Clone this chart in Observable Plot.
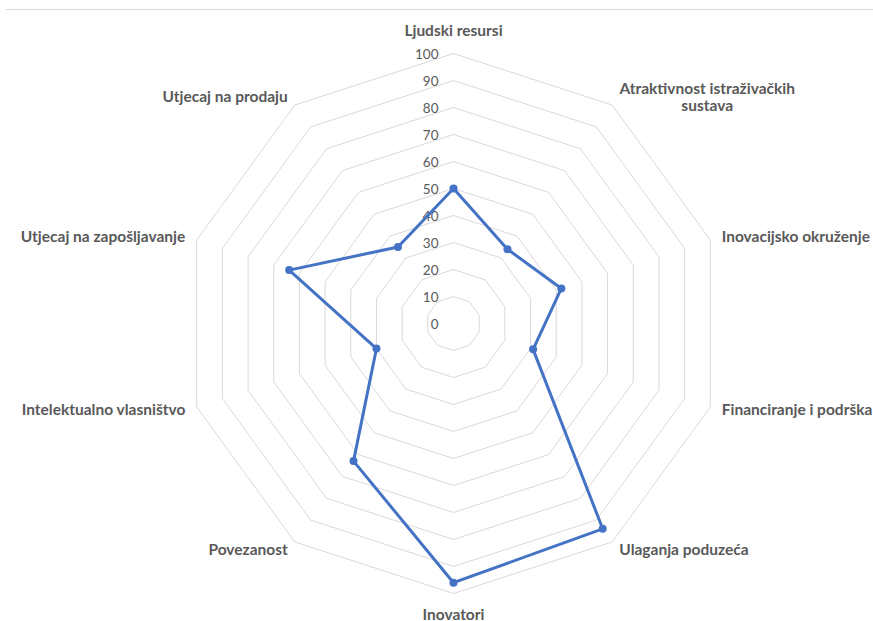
<!DOCTYPE html>
<html>
<head>
<meta charset="utf-8">
<script src="https://cdn.jsdelivr.net/npm/d3@7"></script>
<script src="https://cdn.jsdelivr.net/npm/@observablehq/plot@0.6"></script>
<style>
  body { margin: 0; background: #fff; }
  #wrap { position: relative; width: 873px; height: 621px; }
  #topline { position: absolute; left: 6px; right: 0; top: 9px; height: 0; border-top: 1px solid #d9d9d9; }
</style>
</head>
<body>
<div id="wrap"><div id="topline"></div><div id="chart"></div></div>
<script>
const categories = [
  "Ljudski resursi",
  "Atraktivnost istraživačkih\nsustava",
  "Inovacijsko okruženje",
  "Financiranje i podrška",
  "Ulaganja poduzeća",
  "Inovatori",
  "Povezanost",
  "Intelektualno vlasništvo",
  "Utjecaj na zapošljavanje",
  "Utjecaj na prodaju"
];
const values = [50, 34, 42, 31, 94, 96, 63, 30, 64, 35];
const ticks = [0, 10, 20, 30, 40, 50, 60, 70, 80, 90, 100];

const W = 873, H = 621, cx = 453, cy = 323, pxPerUnit = 2.7;
const maxV = d3.max(ticks);
const n = categories.length;
const ang = i => i * 2 * Math.PI / n;
const pt = (i, v) => ({x: v * Math.sin(ang(i)), y: v * Math.cos(ang(i))});

const rings = ticks.slice(1).flatMap(t =>
  d3.range(n + 1).map(i => ({ring: t, ...pt(i % n, t)})));
const series = values.map((v, i) => ({...pt(i, v), cat: categories[i], v}));
const closed = [...series, series[0]];

const labels = categories.map((c, i) => {
  const a = ang(i), s = Math.sin(a), co = Math.cos(a);
  const side = s > 0.1 ? "start" : s < -0.1 ? "end" : "middle";
  return {...pt(i, maxV), label: c, side, s, co, wrapped: c.includes("\n")};
});
const tickLabels = ticks.map(t => ({x: 0, y: t, label: String(t)}));

const font = "Lato, 'Open Sans', sans-serif";
const labelColor = "#595959";
const labelSize = 15.5;

function labelMark(side) {
  return Plot.text(labels.filter(d => d.side === side && !d.wrapped), {
    x: d => d.x + (side === "middle" ? 0 : Math.sign(d.s) * 12 * Math.abs(d.s) / pxPerUnit),
    y: d => d.y + (side === "middle" ? 22 : 10) * d.co / pxPerUnit,
    text: "label",
    textAnchor: side,
    lineAnchor: "middle",
    fontWeight: "bold",
    fontSize: labelSize,
    fill: labelColor
  });
}

const plot = Plot.plot({
  width: W,
  height: H,
  margin: 0,
  x: {domain: [-cx / pxPerUnit, (W - cx) / pxPerUnit], range: [0, W], axis: null},
  y: {domain: [cy / pxPerUnit, -(H - cy) / pxPerUnit], range: [0, H], axis: null},
  style: {fontFamily: font, background: "transparent"},
  marks: [
    Plot.line(rings, {x: "x", y: "y", z: "ring", stroke: "#d9d9d9", strokeWidth: 1}),
    Plot.text(tickLabels, {x: "x", y: "y", text: "label", textAnchor: "end", dx: -15, dy: 1.5,
      fontSize: 13.5, fill: labelColor, lineAnchor: "middle"}),
    Plot.line(closed, {x: "x", y: "y", stroke: "#4472C4", strokeWidth: 3, strokeLinejoin: "round"}),
    Plot.dot(series, {x: "x", y: "y", r: 4, fill: "#4472C4", stroke: "none"}),
    labelMark("start"),
    labelMark("end"),
    labelMark("middle"),
    Plot.text(labels.filter(d => d.wrapped), {
      x: "x", y: d => d.y + 10.5 * d.co / pxPerUnit, text: "label", textAnchor: "middle", lineAnchor: "middle",
      dx: 95, fontWeight: "bold", fontSize: labelSize, fill: labelColor, lineHeight: 1.1
    })
  ]
});
document.getElementById("chart").appendChild(plot);
</script>
</body>
</html>
